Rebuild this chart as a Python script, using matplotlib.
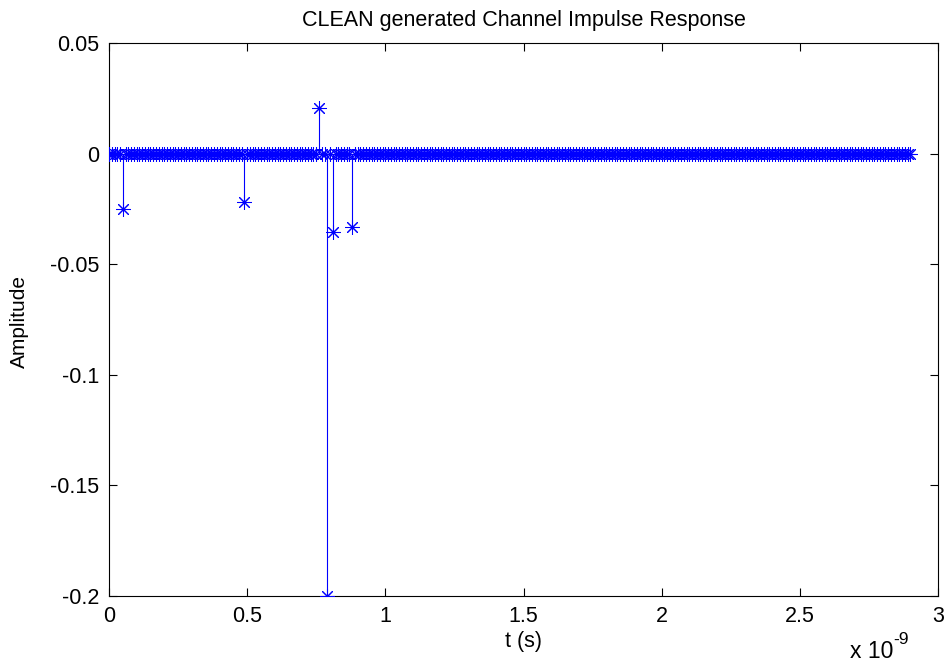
import numpy as np
import matplotlib
matplotlib.use("Agg")
import matplotlib.pyplot as plt

plt.rcParams['font.family'] = ['Liberation Sans', 'DejaVu Sans']

# Data (time in ns, scaled later by 1e-9)
sample_step_ns = 0.01
n_samples = 291
impulse_times_ns = [0.05, 0.49, 0.76, 0.79, 0.81, 0.88]
impulse_amps = [-0.0249, -0.0217, 0.0205, -0.2, -0.0353, -0.0332]

title = "CLEAN generated Channel Impulse Response"
xlabel = "t (s)"
ylabel = "Amplitude"
xticks = [0, 0.5, 1, 1.5, 2, 2.5, 3]
xtick_labels = ["0", "0.5", "1", "1.5", "2", "2.5", "3"]
yticks = [0.05, 0, -0.05, -0.1, -0.15, -0.2]
ytick_labels = ["0.05", "0", "-0.05", "-0.1", "-0.15", "-0.2"]

t = np.arange(n_samples) * sample_step_ns
amp = np.zeros(n_samples)
for ti, a in zip(impulse_times_ns, impulse_amps):
    idx = int(round(ti / sample_step_ns))
    amp[idx] = a

fig = plt.figure(figsize=(9.52, 6.64), dpi=100)
ax = fig.add_axes([109/952, 1-596/664, (938-109)/952, (596-43)/664])

blue = (0, 0, 1)
# baseline
ax.plot([t[0], t[-1]], [0, 0], color=blue, lw=0.8, zorder=2)
# stems
ax.vlines(t, 0, amp, colors=[blue], lw=0.8, zorder=2)
# markers (asterisk)
ax.plot(t, amp, linestyle='none', marker=(8, 2, 0), markersize=10.5,
        markeredgewidth=0.75, color=blue, zorder=3)

ax.set_xlim(0, 3)
ax.set_ylim(-0.2, 0.05)
ax.set_xticks(xticks)
ax.set_xticklabels(xtick_labels)
ax.set_yticks(yticks)
ax.set_yticklabels(ytick_labels)
ax.tick_params(direction='in', top=True, right=True, length=6, width=0.8,
               labelsize=15.5, pad=7)
for s in ax.spines.values():
    s.set_linewidth(0.8)

ax.set_title(title, fontsize=15.5, pad=12)
ax.set_xlabel(xlabel, fontsize=15.5, labelpad=3)
fig.text(19/952, 1-322/664, ylabel, fontsize=15, rotation=90,
         ha='center', va='center')

fig.text(850/952, 1-652/664, "x 10", fontsize=16.5, ha='left', va='center')
fig.text(893/952, 1-640/664, "-9", fontsize=12.5, ha='left', va='center')

fig.savefig("out.png", dpi=100)
